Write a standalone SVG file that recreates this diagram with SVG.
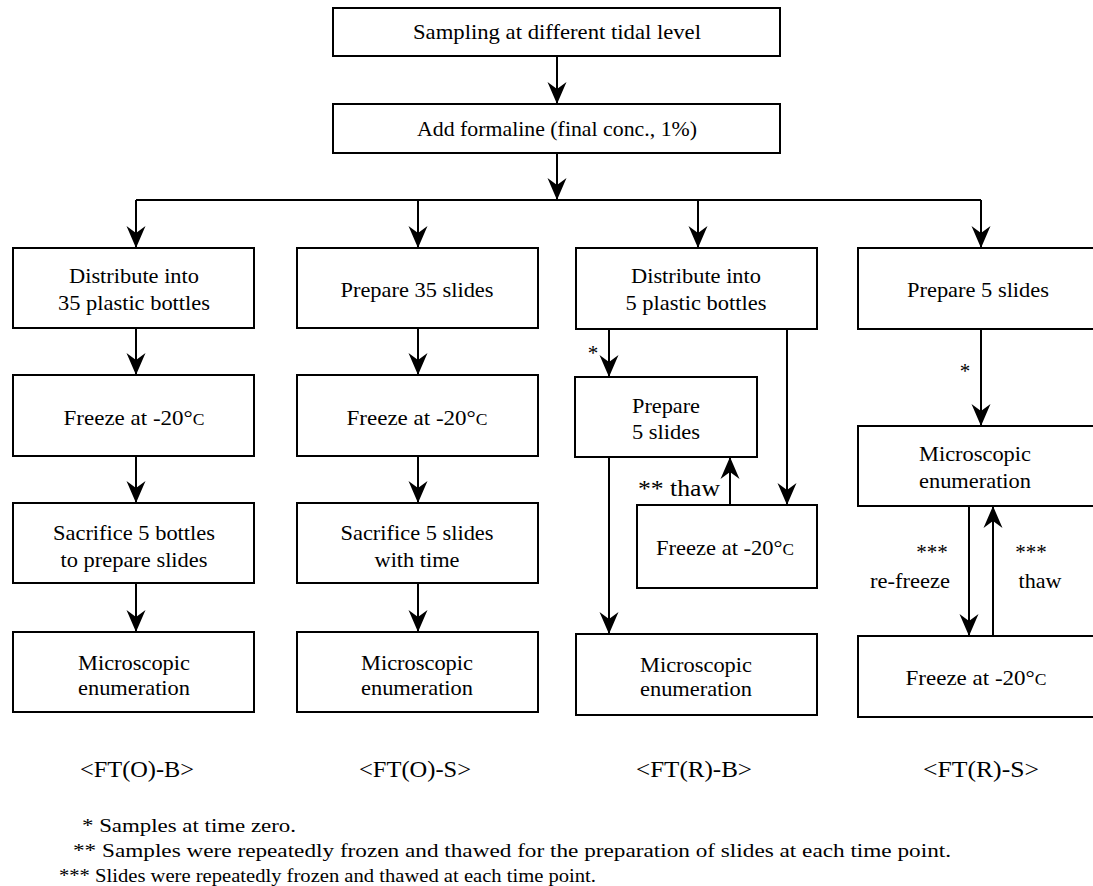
<svg xmlns="http://www.w3.org/2000/svg" width="1093" height="886" viewBox="0 0 1093 886" font-family="Liberation Serif, DejaVu Serif, serif">
<style>
.box{fill:#fff;stroke:#000;stroke-width:2}
.t{font-size:21px;text-anchor:middle;fill:#000}
.lbl{font-size:23px;text-anchor:middle;fill:#000}
.fn{font-size:19.5px;fill:#000}
.c{stroke:#000;stroke-width:2;fill:none}
.a{marker-end:url(#ah)}
.sm{font-size:16px}
</style>
<defs>
<marker id="ah" markerUnits="userSpaceOnUse" markerWidth="22" markerHeight="20" viewBox="0 0 22 20" refX="22" refY="10" orient="auto">
<path d="M0,0.5 L22,10 L0,19.5 L7,10 Z" fill="#000"/>
</marker>
</defs>
<rect width="1093" height="886" fill="#fff"/>

<g id="connectors">
<line class="c a" x1="557" y1="56" x2="557" y2="104"/>
<line class="c a" x1="557" y1="153" x2="557" y2="200"/>
<line class="c" x1="136" y1="200" x2="981" y2="200"/>
<line class="c a" x1="136" y1="200" x2="136" y2="248"/>
<line class="c a" x1="418" y1="200" x2="418" y2="248"/>
<line class="c a" x1="698" y1="200" x2="698" y2="248"/>
<line class="c a" x1="981" y1="200" x2="981" y2="248"/>
<line class="c a" x1="136" y1="328" x2="136" y2="375"/>
<line class="c a" x1="136" y1="456" x2="136" y2="503"/>
<line class="c a" x1="136" y1="583" x2="136" y2="632"/>
<line class="c a" x1="418" y1="328" x2="418" y2="375"/>
<line class="c a" x1="418" y1="456" x2="418" y2="503"/>
<line class="c a" x1="418" y1="583" x2="418" y2="632"/>
<line class="c a" x1="609" y1="329" x2="609" y2="377"/>
<line class="c a" x1="787" y1="329" x2="787" y2="505"/>
<line class="c a" x1="730" y1="505" x2="730" y2="457"/>
<line class="c a" x1="609" y1="457" x2="609" y2="634"/>
<line class="c a" x1="981" y1="329" x2="981" y2="426"/>
<line class="c a" x1="969" y1="506" x2="969" y2="636"/>
<line class="c a" x1="993" y1="636" x2="993" y2="506"/>
<text class="t" x="593" y="360">*</text>
<text x="638" y="496" font-size="23" fill="#000" textLength="82" lengthAdjust="spacingAndGlyphs">** thaw</text>
<text class="t" x="965" y="378">*</text>
<text class="t" x="932" y="559">***</text>
<text class="t" x="910" y="588" textLength="80" lengthAdjust="spacingAndGlyphs">re-freeze</text>
<text class="t" x="1031" y="559">***</text>
<text class="t" x="1040" y="588" textLength="43" lengthAdjust="spacingAndGlyphs">thaw</text>
</g>

<g id="n-sampling">
<rect class="box" x="333" y="8" width="447" height="48"/>
<text class="t" x="557" y="39" textLength="288" lengthAdjust="spacingAndGlyphs">Sampling at different tidal level</text>
</g>
<g id="n-formaline">
<rect class="box" x="333" y="104" width="447" height="49"/>
<text class="t" x="557" y="136" textLength="280" lengthAdjust="spacingAndGlyphs">Add formaline (final conc., 1%)</text>
</g>

<g id="n-c1-distribute">
<rect class="box" x="13" y="248" width="241" height="80"/>
<text class="t" x="134" y="283" textLength="130" lengthAdjust="spacingAndGlyphs">Distribute into</text>
<text class="t" x="134" y="310" textLength="152" lengthAdjust="spacingAndGlyphs">35 plastic bottles</text>
</g>
<g id="n-c1-freeze">
<rect class="box" x="13" y="375" width="241" height="81"/>
<text class="t" x="134" y="425" textLength="141" lengthAdjust="spacingAndGlyphs">Freeze at -20°<tspan class="sm">C</tspan></text>
</g>
<g id="n-c1-sacrifice">
<rect class="box" x="13" y="503" width="241" height="80"/>
<text class="t" x="134" y="540" textLength="162" lengthAdjust="spacingAndGlyphs">Sacrifice 5 bottles</text>
<text class="t" x="134" y="567" textLength="147" lengthAdjust="spacingAndGlyphs">to prepare slides</text>
</g>
<g id="n-c1-micro">
<rect class="box" x="13" y="632" width="241" height="80"/>
<text class="t" x="134" y="670" textLength="112" lengthAdjust="spacingAndGlyphs">Microscopic</text>
<text class="t" x="134" y="695" textLength="112" lengthAdjust="spacingAndGlyphs">enumeration</text>
</g>

<g id="n-c2-prepare">
<rect class="box" x="297" y="248" width="241" height="80"/>
<text class="t" x="417" y="297" textLength="153" lengthAdjust="spacingAndGlyphs">Prepare 35 slides</text>
</g>
<g id="n-c2-freeze">
<rect class="box" x="297" y="375" width="241" height="81"/>
<text class="t" x="417" y="425" textLength="141" lengthAdjust="spacingAndGlyphs">Freeze at -20°<tspan class="sm">C</tspan></text>
</g>
<g id="n-c2-sacrifice">
<rect class="box" x="297" y="503" width="241" height="80"/>
<text class="t" x="417" y="540" textLength="153" lengthAdjust="spacingAndGlyphs">Sacrifice 5 slides</text>
<text class="t" x="417" y="567" textLength="85" lengthAdjust="spacingAndGlyphs">with time</text>
</g>
<g id="n-c2-micro">
<rect class="box" x="297" y="632" width="241" height="80"/>
<text class="t" x="417" y="670" textLength="112" lengthAdjust="spacingAndGlyphs">Microscopic</text>
<text class="t" x="417" y="695" textLength="112" lengthAdjust="spacingAndGlyphs">enumeration</text>
</g>

<g id="n-c3-distribute">
<rect class="box" x="576" y="248" width="241" height="81"/>
<text class="t" x="696" y="283" textLength="130" lengthAdjust="spacingAndGlyphs">Distribute into</text>
<text class="t" x="696" y="310" textLength="141" lengthAdjust="spacingAndGlyphs">5 plastic bottles</text>
</g>
<g id="n-c3-prepare">
<rect class="box" x="575" y="377" width="182" height="80"/>
<text class="t" x="666" y="413" textLength="68" lengthAdjust="spacingAndGlyphs">Prepare</text>
<text class="t" x="666" y="439" textLength="68" lengthAdjust="spacingAndGlyphs">5 slides</text>
</g>
<g id="n-c3-freeze">
<rect class="box" x="637" y="505" width="180" height="83"/>
<text class="t" x="725" y="555" textLength="138" lengthAdjust="spacingAndGlyphs">Freeze at -20°<tspan class="sm">C</tspan></text>
</g>
<g id="n-c3-micro">
<rect class="box" x="576" y="634" width="241" height="81"/>
<text class="t" x="696" y="672" textLength="112" lengthAdjust="spacingAndGlyphs">Microscopic</text>
<text class="t" x="696" y="696" textLength="112" lengthAdjust="spacingAndGlyphs">enumeration</text>
</g>

<g id="n-c4-prepare">
<rect class="box" x="858" y="248" width="241" height="81"/>
<text class="t" x="978" y="297" textLength="142" lengthAdjust="spacingAndGlyphs">Prepare 5 slides</text>
</g>
<g id="n-c4-micro">
<rect class="box" x="858" y="426" width="241" height="80"/>
<text class="t" x="975" y="461" textLength="112" lengthAdjust="spacingAndGlyphs">Microscopic</text>
<text class="t" x="975" y="488" textLength="112" lengthAdjust="spacingAndGlyphs">enumeration</text>
</g>
<g id="n-c4-freeze">
<rect class="box" x="858" y="636" width="241" height="81"/>
<text class="t" x="976" y="685" textLength="141" lengthAdjust="spacingAndGlyphs">Freeze at -20°<tspan class="sm">C</tspan></text>
</g>

<g id="labels">
<text class="lbl" x="137" y="777" textLength="114" lengthAdjust="spacingAndGlyphs">&lt;FT(O)-B&gt;</text>
<text class="lbl" x="415" y="777" textLength="112" lengthAdjust="spacingAndGlyphs">&lt;FT(O)-S&gt;</text>
<text class="lbl" x="694" y="777" textLength="116" lengthAdjust="spacingAndGlyphs">&lt;FT(R)-B&gt;</text>
<text class="lbl" x="981" y="777" textLength="116" lengthAdjust="spacingAndGlyphs">&lt;FT(R)-S&gt;</text>
</g>

<g id="footnotes">
<text class="fn" x="82" y="832" textLength="214" lengthAdjust="spacingAndGlyphs">* Samples at time zero.</text>
<text class="fn" x="73" y="857" textLength="878" lengthAdjust="spacingAndGlyphs">** Samples were repeatedly frozen and thawed for the preparation of slides at each time point.</text>
<text class="fn" x="59" y="882" textLength="537" lengthAdjust="spacingAndGlyphs">*** Slides were repeatedly frozen and thawed at each time point.</text>
</g>
</svg>
